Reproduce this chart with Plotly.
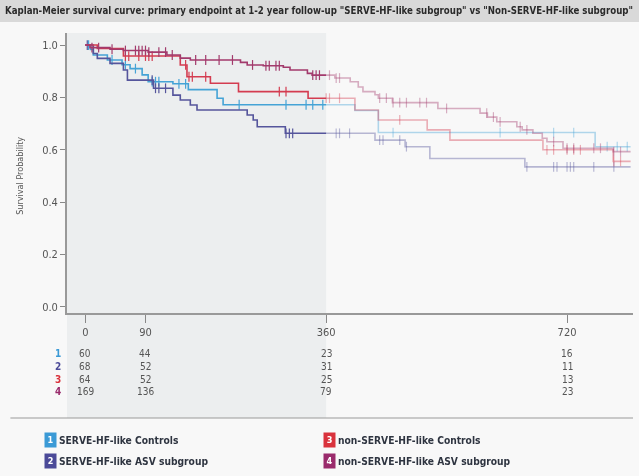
import numpy as np
import plotly.graph_objects as go

# Kaplan-Meier step estimates (time in days, survival probability)
t1 = [0, 8, 12, 33, 55, 67, 85, 94, 131, 154, 197, 206, 403, 438, 762]
s1 = [1.0, 0.983, 0.962, 0.943, 0.925, 0.91, 0.886, 0.86, 0.852, 0.83, 0.797, 0.772, 0.75, 0.666, 0.612]
c1 = [5, 40, 60, 75, 100, 105, 110, 140, 150, 230, 300, 330, 340, 355, 460, 620, 700, 730, 780, 795, 810]

t2 = [0, 12, 18, 37, 57, 63, 102, 131, 142, 157, 167, 242, 251, 257, 299, 433, 478, 515, 657]
s2 = [1.0, 0.968, 0.949, 0.93, 0.905, 0.866, 0.835, 0.809, 0.79, 0.771, 0.752, 0.733, 0.714, 0.688, 0.663, 0.637, 0.612, 0.567, 0.535]
c2 = [3, 100, 105, 110, 120, 300, 305, 310, 375, 380, 395, 440, 445, 470, 480, 660, 700, 705, 720, 725, 730, 760, 790]

t3 = [0, 18, 57, 142, 152, 187, 229, 333, 403, 438, 511, 545, 684, 789]
s3 = [1.0, 0.987, 0.958, 0.924, 0.879, 0.854, 0.822, 0.797, 0.752, 0.714, 0.676, 0.637, 0.6, 0.556]
c3 = [60, 65, 80, 90, 95, 100, 150, 155, 160, 180, 290, 300, 360, 365, 380, 470, 690, 700, 720, 730, 740, 790, 800]

t4 = [0, 7, 37, 57, 94, 122, 142, 157, 232, 242, 266, 296, 306, 332, 339, 373, 396, 408, 415,
      433, 438, 459, 527, 590, 601, 615, 645, 653, 669, 683, 690, 714, 789]
s4 = [1.0, 0.99, 0.984, 0.979, 0.973, 0.962, 0.95, 0.943, 0.934, 0.924, 0.921, 0.915, 0.905, 0.892, 0.885,
      0.874, 0.86, 0.84, 0.822, 0.81, 0.797, 0.78, 0.758, 0.74, 0.725, 0.707, 0.688, 0.676, 0.663, 0.644,
      0.631, 0.606, 0.593]
c4 = [10, 20, 40, 60, 75, 80, 85, 90, 95, 110, 120, 130, 165, 180, 200, 220, 250, 270, 275, 285, 290,
      340, 345, 350, 365, 375, 380, 440, 450, 460, 470, 480, 500, 510, 540, 600, 610, 620, 650, 660,
      700, 720, 730, 760, 770, 790, 800]

# Numbers at risk
risk_times = [0, 90, 360, 720]
risk1 = [60, 44, 23, 16]
risk2 = [68, 52, 31, 11]
risk3 = [64, 52, 25, 13]
risk4 = [169, 136, 79, 23]

group_names = ["SERVE-HF-like Controls", "SERVE-HF-like ASV subgroup",
               "non-SERVE-HF-like Controls", "non-SERVE-HF-like ASV subgroup"]
line_colors = ["#45a3d6", "#55559c", "#d43c50", "#a23a6c"]
box_colors = ["#3b9ad6", "#4b4a98", "#d9323c", "#9a2b6c"]

T_END = 815
T_CUT = 360
X_RANGE = [-27.3, 818.6]
Y_RANGE = [-0.023, 1.046]
FONT = "DejaVu Sans Condensed, Liberation Sans Narrow, sans-serif"


def step_value(t, s, x):
    idx = np.searchsorted(np.asarray(t), x, side="right") - 1
    return np.asarray(s)[np.clip(idx, 0, len(s) - 1)]


def split_curve(t, s):
    t = np.asarray(t, float)
    s = np.asarray(s, float)
    v_cut = float(step_value(t, s, T_CUT))
    m = t < T_CUT
    xb = list(t[m]) + [T_CUT]
    yb = list(s[m]) + [v_cut]
    xa = [T_CUT] + list(t[~m]) + [T_END]
    ya = [v_cut] + list(s[~m]) + [float(s[-1])]
    return (xb, yb), (xa, ya)


fig = go.Figure()

curves = [(t1, s1, c1), (t2, s2, c2), (t3, s3, c3), (t4, s4, c4)]
for i, (t, s, c) in enumerate(curves):
    (xb, yb), (xa, ya) = split_curve(t, s)
    col = line_colors[i]
    fig.add_trace(go.Scatter(x=xb, y=yb, mode="lines", line=dict(color=col, width=1.6, shape="hv"),
                             name=group_names[i], showlegend=False, hoverinfo="skip"))
    fig.add_trace(go.Scatter(x=xa, y=ya, mode="lines", line=dict(color=col, width=1.6, shape="hv"),
                             opacity=0.4, showlegend=False, hoverinfo="skip"))
    c = np.asarray(c, float)
    cy = step_value(t, s, c)
    for mask, op in ((c < T_CUT, 1.0), (c >= T_CUT, 0.4)):
        fig.add_trace(go.Scatter(x=c[mask], y=cy[mask], mode="markers", opacity=op,
                                 marker=dict(symbol="line-ns", size=7, line=dict(color=col, width=1.2)),
                                 showlegend=False, hoverinfo="skip"))

shapes = [
    # title band
    dict(type="rect", xref="paper", yref="paper", x0=-0.2, x1=1.2, y0=1.039, y1=1.2,
         fillcolor="#d9d9d9", line_width=0, layer="below"),
    # first-year shading, down through the risk table
    dict(type="rect", xref="x", yref="paper", x0=X_RANGE[0], x1=T_CUT, y0=-0.375, y1=1.0,
         fillcolor="#eceeef", line_width=0, layer="below"),
    # separator above the legend
    dict(type="line", xref="paper", yref="paper", x0=-0.1, x1=1.0, y0=-0.375, y1=-0.375,
         line=dict(color="#9a9a9a", width=1.2)),
]

annotations = [
    dict(text="Kaplan-Meier survival curve: primary endpoint at 1-2 year follow-up \"SERVE-HF-like subgroup\" "
              "vs \"Non-SERVE-HF-like subgroup\"",
         xref="paper", yref="paper", x=-0.113, y=1.08, xanchor="left", yanchor="middle", showarrow=False,
         font=dict(family=FONT, size=9.6, color="#2a2a2a", weight="bold")),
    dict(text="Survival Probability", xref="paper", yref="paper", x=-0.083, y=0.49, textangle=-90,
         showarrow=False, xanchor="center", yanchor="middle", font=dict(family=FONT, size=9, color="#555555")),
]

row_y = [-0.146, -0.192, -0.238, -0.282]
for i, risk in enumerate([risk1, risk2, risk3, risk4]):
    annotations.append(dict(text=f"<b>{i + 1}</b>", xref="paper", yref="paper", x=-0.016, y=row_y[i],
                            showarrow=False, xanchor="center", yanchor="middle",
                            font=dict(family=FONT, size=10, color=box_colors[i])))
    for tt, n in zip(risk_times, risk):
        annotations.append(dict(text=str(n), xref="x", yref="paper", x=tt, y=row_y[i], showarrow=False,
                                xanchor="center", yanchor="middle",
                                font=dict(family=FONT, size=10, color="#555555")))

leg_pos = [(-0.03, -0.454), (-0.03, -0.529), (0.463, -0.454), (0.463, -0.529)]
for i, (lx, ly) in enumerate(leg_pos):
    annotations.append(dict(text=f"<b>{i + 1}</b>", xref="paper", yref="paper", x=lx, y=ly, showarrow=False,
                            xanchor="center", yanchor="middle", bgcolor=box_colors[i], borderpad=1,
                            width=9, height=12, font=dict(family=FONT, size=9, color="white")))
    annotations.append(dict(text=group_names[i], xref="paper", yref="paper", x=lx + 0.012, y=ly,
                            showarrow=False, xanchor="left", yanchor="middle",
                            font=dict(family=FONT, size=10.2, color="#2e3440", weight="bold")))

fig.update_layout(
    width=639, height=476,
    margin=dict(l=67, r=6, t=33, b=163),
    paper_bgcolor="#f8f8f8", plot_bgcolor="#f8f8f8",
    showlegend=False,
    shapes=shapes, annotations=annotations,
    xaxis=dict(range=X_RANGE, tickvals=risk_times, ticktext=[str(v) for v in risk_times],
               ticks="outside", ticklen=8, tickwidth=1.2, tickcolor="#888888",
               showline=True, linecolor="#999999", linewidth=1.8, showgrid=False, zeroline=False,
               tickfont=dict(family=FONT, size=11, color="#555555")),
    yaxis=dict(range=Y_RANGE, tickvals=[0, 0.2, 0.4, 0.6, 0.8, 1.0], tickformat=".1f",
               ticks="outside", ticklen=5, tickwidth=1.2, tickcolor="#888888",
               showline=True, linecolor="#999999", linewidth=1.8, showgrid=False, zeroline=False,
               tickfont=dict(family=FONT, size=11, color="#555555")),
)

fig.write_html("out.html")
